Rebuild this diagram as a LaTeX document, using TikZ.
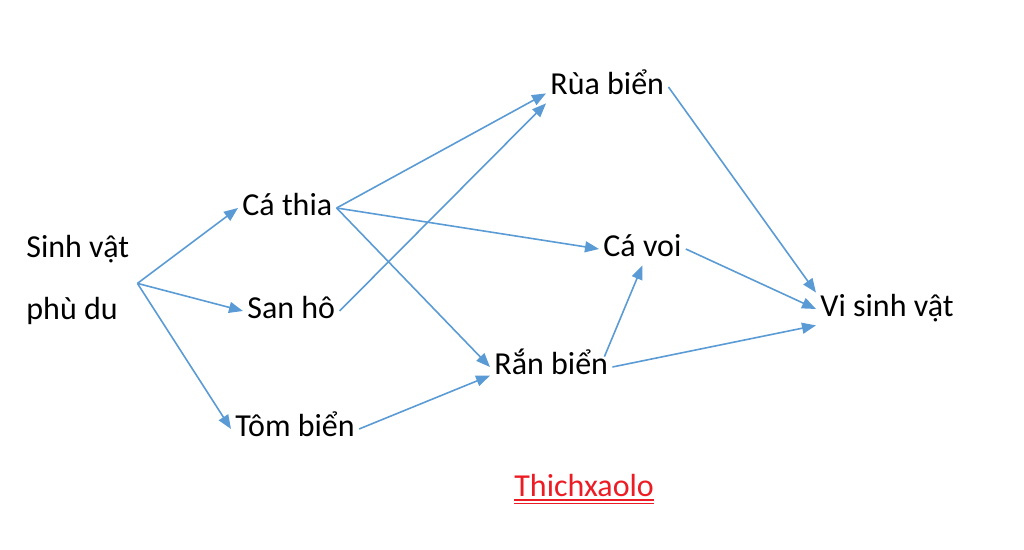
\documentclass[tikz,border=0pt]{standalone}
\usepackage{fontspec}
\setmainfont{Carlito}
\usepackage{xcolor}
\usepackage{tikz}
\usetikzlibrary{arrows.meta,positioning,calc}
\definecolor{xanh}{RGB}{91,155,213}
\definecolor{chudo}{RGB}{237,28,36}
\tikzset{
  loai/.style={anchor=base west, inner xsep=2pt, inner ysep=0pt, text height=12pt, text depth=4pt, font=\fontsize{16}{19}\selectfont},
  muiten/.style={-{Triangle[length=7pt,width=5.5pt]}, draw=xanh, line width=0.8pt},
}

\begin{document}
\begin{tikzpicture}[x=0.5pt,y=-0.5pt]
                \useasboundingbox (0,0) rectangle (1024,550);
                % cac loai sinh vat
                \node[anchor=north west, inner sep=0pt, align=left, font=\fontsize{16}{31}\selectfont] (svpd) at (26,231) {\rule{0pt}{13pt}Sinh vật\\\rule[-4pt]{0pt}{4pt}phù du};
                \node[loai] (cathia) at (238,216) {Cá thia};
                \node[loai] (sanho) at (243,319) {San hô};
                \node[loai] (tom) at (231,437) {Tôm biển};
                \node[loai] (rua) at (546,95) {Rùa biển};
                \node[loai] (cavoi) at (599,257) {Cá voi};
                \node[loai] (ran) at (490,375) {Rắn biển};
                \node[loai] (vsv) at (816,317) {Vi sinh vật};
                \node[anchor=base west, inner sep=0pt, text=chudo, font=\fontsize{16}{19}\selectfont] (ten) at (514,497) {Thichxaolo};
                \draw[chudo, line width=0.7pt] ([yshift=-1.6pt]ten.base west) -- ([yshift=-1.6pt]ten.base east);
                \draw[chudo, line width=0.7pt] ([yshift=-3.2pt]ten.base west) -- ([yshift=-3.2pt]ten.base east);
                % mui ten
                \draw[muiten] ([xshift=4pt,yshift=-2pt]svpd.east) -- (cathia.west);
                \draw[muiten] ([xshift=4pt,yshift=-2pt]svpd.east) -- (sanho.west);
                \draw[muiten] ([xshift=4pt,yshift=-2pt]svpd.east) -- (tom.west);
                \draw[muiten] (cathia.east) -- (rua.186);
                \draw[muiten] (cathia.east) -- (cavoi.west);
                \draw[muiten] (cathia.east) -- (ran.west);
                \draw[muiten] (sanho.east) -- (rua.south west);
                \draw[muiten] (tom.east) -- (ran.188);
                \draw[muiten] ([xshift=-4pt,yshift=-3pt]ran.north east) -- (cavoi.south);
                \draw[muiten] (ran.east) -- (vsv.south west);
                \draw[muiten] (cavoi.east) -- (vsv.west);
                \draw[muiten] (rua.east) -- (vsv.north west);
            \end{tikzpicture}
\end{document}
